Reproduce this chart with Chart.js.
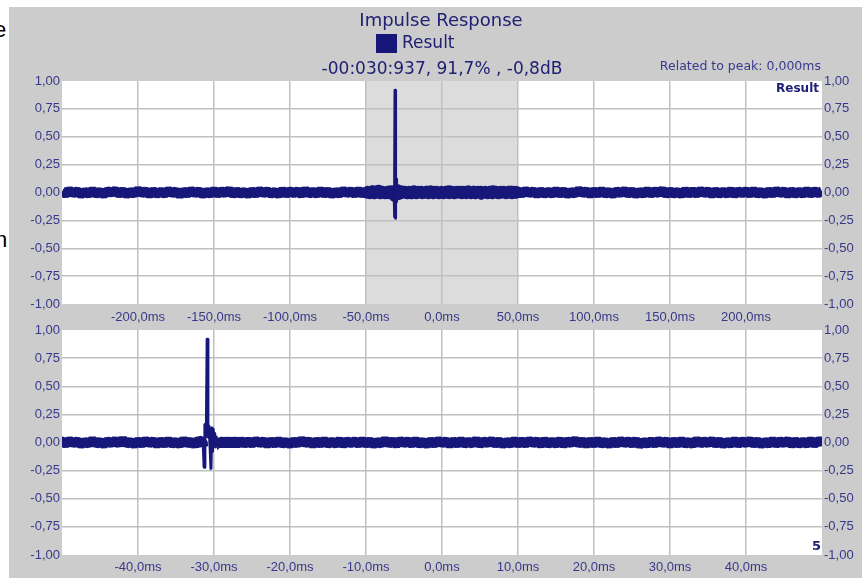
<!DOCTYPE html>
<html><head><meta charset="utf-8">
<script src="https://cdn.jsdelivr.net/npm/chart.js@4.4.1/dist/chart.umd.min.js"></script>
<style>
html,body{margin:0;padding:0;background:#fff;width:862px;height:578px;overflow:hidden;position:relative;}
#panel{position:absolute;left:9px;top:7px;width:853px;height:571px;background:#cccccc;}
#c1{position:absolute;left:9px;top:7px;}
#c2{position:absolute;left:9px;top:318px;}
.stray{position:absolute;font:22px "Liberation Sans",Arial,sans-serif;color:#000;line-height:1;}
</style></head><body>
<div id="panel"></div>
<span class="stray" style="left:-6px;top:19px">e</span>
<span class="stray" style="left:-5px;top:229px">n</span>
<canvas id="c1" width="853" height="323"></canvas>
<canvas id="c2" width="853" height="260"></canvas>
<script>
// ---- texts ----
const seriesName = 'Result';
const titleText = 'Impulse Response';
const peakInfo = '-00:030:937, 91,7% , -0,8dB';
const relatedText = 'Related to peak: 0,000ms';
const cornerMark = '5';

// ---- axes ----
const topRange = [-250, 250];
const bottomRange = [-50, 50];
const topXTicks = [-200, -150, -100, -50, 0, 50, 100, 150, 200];
const bottomXTicks = [-40, -30, -20, -10, 0, 10, 20, 30, 40];
const yTicks = [-1, -0.75, -0.5, -0.25, 0, 0.25, 0.5, 0.75, 1];

// ---- samples (ms, amplitude) ----
const outerLeftStart = -250, outerStep = 2.5;
const outerLeft = [
0.01,-0.01,0.015,-0.005,0.01,-0.015,0.005,-0.01,0.015,-0.01,
0.005,-0.015,0.01,0,0.015,-0.01,0.01,-0.015,0.005,-0.01,
0.02,-0.005,0.01,-0.015,0.01,-0.01,0.005,-0.01,0.015,-0.005,
0.01,-0.02,0.01,-0.01,0.015,-0.005,0.01,-0.015,0.005,-0.01,
0.015,-0.01,0.01,-0.005,0.02,-0.015,0.01,-0.01,0.005,-0.015,
0.01,-0.01,0.015,-0.005,0.01,-0.01,0.005,-0.015,0.015,-0.01,
0.01,-0.005,0.01,-0.015,0.02,-0.01,0.005,-0.01,0.015,-0.01,
0.01,-0.015,0.005,-0.01,0.015,-0.005,0.01,-0.01,0.015,-0.01
];
const innerAStart = -50, innerStep = 0.5;
const innerA = [
0.01,-0.01,0.015,-0.005,0.01,-0.015,0.005,-0.01,0.02,-0.01,
0.005,-0.015,0.01,-0.005,0.015,-0.01,0.025,-0.01,0.005,-0.015,
0.01,-0.01,0.015,-0.005,0.01,-0.015,0.01,-0.01,0.015,-0.01,
0.005,-0.015,0.02,-0.01,0.01,-0.02,0.02,0.005
];
const peakTimes = [-31.4,-31.3,-31.2,-31.1,-31.0,-30.9,-30.8,-30.7,-30.6,-30.5,-30.4,-30.3,-30.2,-30.1,-30.0,-29.9,-29.8,-29.7,-29.6];
const peakValues = [-0.04,-0.22,0.16,0.10,0.14,0.917,0.05,0.15,0.08,-0.06,-0.23,0.13,-0.08,0.12,-0.03,0.08,-0.04,0.05,-0.02];
const innerBStart = -29.5;
const innerB = [
0.03,-0.025,0.025,-0.02,0.02,-0.015,0.015,-0.01,0.01,-0.01,0.015,-0.005,0.01,-0.015,0.01,-0.01,0.015,-0.01,0.005,-0.015,
0.01,-0.01,0.02,-0.005,0.01,-0.015,0.01,-0.01,0.015,-0.01,0.005,-0.01,0.015,-0.015,0.01,-0.005,0.01,-0.01,0.015,-0.01,
0.01,-0.015,0.005,-0.01,0.02,-0.01,0.01,-0.015,0.015,-0.005,0.01,-0.01,0.015,-0.01,0.005,-0.015,0.01,-0.01,0.015,-0.005,
0.01,-0.015,0.01,-0.01,0.015,-0.01,0.005,-0.01,0.02,-0.015,0.01,-0.005,0.015,-0.01,0.01,-0.015,0.005,-0.01,0.015,-0.01,
0.01,-0.01,0.015,-0.005,0.01,-0.015,0.015,-0.01,0.005,-0.01,0.015,-0.015,0.01,-0.005,0.02,-0.01,0.01,-0.015,0.01,-0.01,
0.015,-0.01,0.005,-0.015,0.01,-0.01,0.015,-0.005,0.01,-0.01,0.015,-0.02,0.005,-0.01,0.01,-0.01,0.015,-0.005,0.01,-0.015,
0.01,-0.01,0.015,-0.01,0.005,-0.015,0.02,-0.01,0.01,-0.005,0.015,-0.01,0.01,-0.015,0.005,-0.01,0.015,-0.01,0.01,-0.005,
0.015,-0.01,0.01,-0.015,0.005,-0.01,0.015,-0.01,0.01,-0.005,0.015,-0.015,0.01,-0.01,0.005,-0.01,0.015,-0.01,0.01
];
const outerRightStart = 50;
const outerRight = [
0.01,-0.01,0.015,-0.005,0.01,-0.015,0.01,-0.01,0.005,-0.01,
0.015,-0.01,0.01,-0.015,0.005,-0.01,0.02,-0.005,0.01,-0.015,
0.01,-0.01,0.015,-0.01,0.005,-0.015,0.01,-0.005,0.015,-0.01,
0.01,-0.015,0.005,-0.01,0.015,-0.01,0.01,-0.005,0.02,-0.015,
0.01,-0.01,0.005,-0.015,0.015,-0.01,0.01,-0.01,0.015,-0.005,
0.01,-0.015,0.01,-0.01,0.005,-0.01,0.015,-0.015,0.01,-0.005,
0.01,-0.01,0.015,-0.01,0.005,-0.015,0.01,-0.01,0.015,-0.005,
0.01,-0.015,0.01,-0.01,0.005,-0.01,0.015,-0.01,0.01,-0.005,
0.01
];

// ---- build points ----
function seg(start, step, vals) { return vals.map((v, i) => ({x: +(start + i * step).toFixed(3), y: v})); }
const points = [].concat(
  seg(outerLeftStart, outerStep, outerLeft),
  seg(innerAStart, innerStep, innerA),
  peakTimes.map((t, i) => ({x: t, y: peakValues[i]})),
  seg(innerBStart, innerStep, innerB),
  seg(outerRightStart, outerStep, outerRight)
);
const peakStart = peakTimes[0], peakEnd = peakTimes[peakTimes.length - 1];

// ---- styles ----
const LINE = '#17177a';
const TICKC = '#38388a';
const HEADC = '#202074';
const GRIDC = '#c0c0c0';
const tickFont = {family: '"Liberation Sans", Arial, sans-serif', size: 13};
const fmtMs = v => v.toFixed(1).replace('.', ',') + 'ms';
const fmtY = v => v.toFixed(2).replace('.', ',');

function makeOptions(range, xTicks, cfg) {
  return {
    responsive: false, animation: false, devicePixelRatio: 1,
    layout: {padding: {top: cfg.padTop, left: 0, right: 0, bottom: 0}},
    plugins: {legend: {display: false}, tooltip: {enabled: false}, title: {display: false}},
    scales: {
      x: {
        type: 'linear', min: range[0], max: range[1],
        afterBuildTicks: s => { s.ticks = xTicks.map(v => ({value: v})); },
        afterFit: s => { s.height = cfg.xH; },
        grid: {color: GRIDC, lineWidth: 1.5, drawTicks: false, tickLength: 0},
        border: {display: false},
        ticks: {font: tickFont, color: TICKC, padding: cfg.xPad, maxRotation: 0, autoSkip: false, callback: v => fmtMs(v)}
      },
      y: {
        position: 'left', min: -1, max: 1,
        afterBuildTicks: s => { s.ticks = yTicks.map(v => ({value: v})); },
        afterFit: s => { s.width = 53; },
        grid: {color: c => (Math.abs(c.tick.value) === 1 ? 'rgba(0,0,0,0)' : GRIDC), lineWidth: 1.5, drawTicks: false, tickLength: 0},
        border: {display: false},
        ticks: {font: tickFont, color: TICKC, padding: 2, autoSkip: false, callback: v => fmtY(v)}
      },
      y2: {
        position: 'right', min: -1, max: 1,
        afterBuildTicks: s => { s.ticks = yTicks.map(v => ({value: v})); },
        afterFit: s => { s.width = 40; },
        grid: {display: false, drawTicks: false, tickLength: 0},
        border: {display: false},
        ticks: {font: tickFont, color: TICKC, padding: 2, autoSkip: false, callback: v => fmtY(v)}
      }
    }
  };
}

const inPeak = c => c.p0.parsed.x >= peakStart - 0.05 && c.p1.parsed.x <= peakEnd + 0.05;
const inDense = c => c.p0.parsed.x >= innerAStart && c.p1.parsed.x < outerRightStart;

function dataset(denseRound, noiseW) {
  return {label: seriesName, data: points, borderColor: LINE, backgroundColor: LINE, borderWidth: noiseW,
    borderJoinStyle: 'bevel', borderCapStyle: 'butt',
    segment: {
      borderWidth: c => (inPeak(c) ? 3 : noiseW),
      borderJoinStyle: c => (inPeak(c) ? 'round' : (denseRound && inDense(c) ? 'round' : 'bevel'))
    },
    pointRadius: 0, tension: 0, fill: false, clip: 0, yAxisID: 'y'};
}

const bgPlugin = {
  id: 'bg',
  beforeDraw(chart, args, opts) {
    const {ctx, chartArea: a, scales} = chart;
    ctx.save();
    ctx.fillStyle = '#ffffff';
    ctx.fillRect(a.left, a.top, a.right - a.left, a.bottom - a.top);
    if (opts.shade) {
      const x0 = scales.x.getPixelForValue(opts.shade[0]);
      const x1 = scales.x.getPixelForValue(opts.shade[1]);
      ctx.fillStyle = '#dcdcdc';
      ctx.fillRect(x0, a.top, x1 - x0, a.bottom - a.top);
    }
    ctx.restore();
  }
};

const headerPlugin = {
  id: 'header',
  afterDraw(chart) {
    const {ctx, chartArea: a} = chart;
    ctx.save();
    ctx.textBaseline = 'middle';
    ctx.fillStyle = HEADC;
    ctx.textAlign = 'center';
    ctx.font = '18px "DejaVu Sans", sans-serif';
    ctx.fillText(titleText, 432, 14);
    ctx.fillStyle = chart.data.datasets[0].borderColor;
    ctx.fillRect(367, 27, 21, 19);
    ctx.fillStyle = HEADC;
    ctx.textAlign = 'left';
    ctx.font = '17px "DejaVu Sans", sans-serif';
    ctx.fillText(chart.data.datasets[0].label, 393, 37);
    ctx.textAlign = 'center';
    ctx.fillText(peakInfo, 433, 63);
    ctx.textAlign = 'right';
    ctx.fillStyle = '#3a3a8c';
    ctx.font = '12.5px "DejaVu Sans", sans-serif';
    ctx.fillText(relatedText, 812, 60);
    ctx.fillStyle = HEADC;
    ctx.font = 'bold 12px "DejaVu Sans", sans-serif';
    ctx.fillText(chart.data.datasets[0].label, a.right - 3, a.top + 8);
    ctx.restore();
  }
};

const cornerPlugin = {
  id: 'corner',
  afterDraw(chart) {
    const {ctx, chartArea: a} = chart;
    ctx.save();
    ctx.textBaseline = 'middle';
    ctx.textAlign = 'right';
    ctx.fillStyle = HEADC;
    ctx.font = 'bold 13px "DejaVu Sans", sans-serif';
    ctx.fillText(cornerMark, a.right - 1, a.bottom - 8);
    ctx.restore();
  }
};

const o1 = makeOptions(topRange, topXTicks, {padTop: 74, xH: 26, xPad: 6});
o1.plugins.bg = {shade: bottomRange};
new Chart(document.getElementById('c1'), {
  type: 'line', data: {datasets: [dataset(true, 10)]}, options: o1, plugins: [bgPlugin, headerPlugin]
});

const o2 = makeOptions(bottomRange, bottomXTicks, {padTop: 12, xH: 23, xPad: 5});
o2.plugins.bg = {shade: null};
new Chart(document.getElementById('c2'), {
  type: 'line', data: {datasets: [dataset(false, 10)]}, options: o2, plugins: [bgPlugin, cornerPlugin]
});
</script>
</body></html>
